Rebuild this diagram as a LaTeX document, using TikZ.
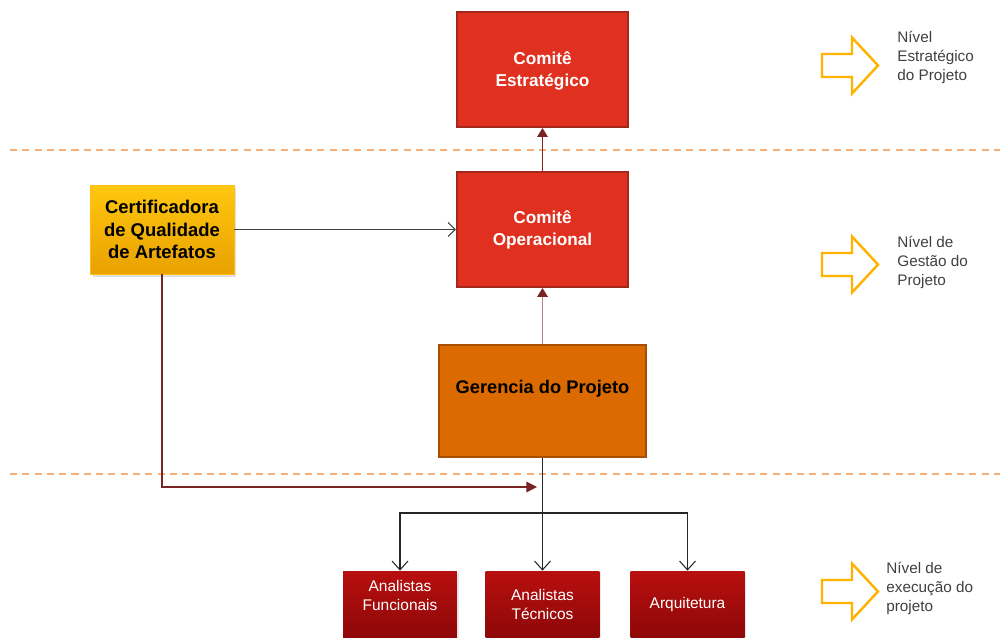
\documentclass[tikz,border=0pt]{standalone}
\usepackage{fontspec}
\setmainfont{Liberation Sans}
\usetikzlibrary{arrows.meta,shadows}

\definecolor{redfill}{HTML}{E0301F}
\definecolor{redline}{HTML}{A2281C}
\definecolor{orfill}{HTML}{DB6A00}
\definecolor{orline}{HTML}{A95000}
\definecolor{goldtop}{HTML}{FFC70F}
\definecolor{goldbot}{HTML}{E9A100}
\definecolor{darkredtop}{HTML}{B80F0F}
\definecolor{darkredbot}{HTML}{8E0808}
\definecolor{levelarrow}{HTML}{FFB300}
\definecolor{leveltext}{HTML}{404040}
\definecolor{sepline}{HTML}{F5B07A}
\definecolor{linkred}{HTML}{7A2424}
\definecolor{linkpink}{HTML}{B08484}

\tikzset{
  committee/.style={draw=redline, line width=1.2pt, fill=redfill, text=white,
    font=\bfseries\fontsize{9.8}{12.5}\selectfont, align=center,
    minimum width=3.42cm, minimum height=2.3cm, inner sep=0pt},
  certbox/.style={draw=goldtop!90!orange, line width=0.4pt, top color=goldtop, bottom color=goldbot,
    font=\bfseries\fontsize{10.5}{12.8}\selectfont, align=center,
    minimum width=2.88cm, minimum height=1.78cm, inner sep=0pt,
    drop shadow={shadow xshift=0.05cm, shadow yshift=-0.05cm, opacity=0.25}},
  managerbox/.style={draw=orline, line width=1.2pt, fill=orfill,
    font=\bfseries\fontsize{10.4}{12}\selectfont, align=center,
    minimum width=4.14cm, minimum height=2.24cm, inner sep=0pt},
  teambox/.style={top color=darkredtop, bottom color=darkredbot, text=white,
    font=\fontsize{8.8}{10.8}\selectfont, align=center,
    minimum width=2.28cm, minimum height=1.32cm, inner sep=0pt,
    drop shadow={shadow xshift=0.04cm, shadow yshift=-0.04cm, opacity=0.2}},
  teamtxt/.style={font=\fontsize{8.8}{10.8}\selectfont, text=white, align=center, inner sep=0pt},
  leveltxt/.style={anchor=north west, text=leveltext, align=left,
    font=\fontsize{8.7}{10.8}\selectfont, inner sep=0pt},
  levelarrowshape/.style={draw=levelarrow, line width=1.4pt, line join=miter},
  sep/.style={draw=sepline, dashed, dash pattern=on 4pt off 3pt, line width=0.6pt},
  uplink/.style={draw=linkred, line width=0.6pt, -{Triangle[length=5pt,width=6pt]}},
  pinklink/.style={draw=linkpink, line width=0.8pt, -{Triangle[length=5pt,width=6pt,color=linkred]}},
  certlink/.style={draw=black!75, line width=0.6pt, -{Straight Barb[length=4pt,width=8pt]}},
  feedlink/.style={draw=linkred, line width=0.7pt, -{Triangle[length=6pt,width=6pt]}},
  teamlink/.style={draw=black!85, line width=0.6pt, -{Straight Barb[length=5pt,width=9pt]}},
}

\newcommand{\levelarrow}[1]{%
  \draw[levelarrowshape] (822,#1-11.5) -- (852,#1-11.5) -- (852,#1-28) -- (878,#1)
    -- (852,#1+28) -- (852,#1+11.5) -- (822,#1+11.5) -- cycle;}

\begin{document}
\begin{tikzpicture}[x=0.02cm, y=-0.02cm]
\useasboundingbox (0,0) rectangle (1000,637);
\begin{scope}
\clip (0,0) rectangle (1000,637);

% level separators
\draw[sep] (10,150) -- (1000,150);
\draw[sep] (10,474) -- (1000,474);

% boxes
\node[committee] (est) at (542.5,69.5) {};
\node[committee] (op) at (542.5,229.5) {};
\node[committee, draw=none, fill=none, minimum width=0pt, minimum height=0pt] (esttxt) at (542.5,71) {Comitê\\Estratégico};
\node[committee, draw=none, fill=none, minimum width=0pt, minimum height=0pt] (optxt) at (542.5,230) {Comitê\\Operacional};
\node[certbox] (cert) at (162,229.5) {Certificadora\\de Qualidade\\de Artefatos};
\node[managerbox] (ger) at (542.5,401) {};
\node[font=\bfseries\fontsize{10.4}{12}\selectfont, inner sep=0pt] (gertxt) at (542.5,389) {Gerencia do Projeto};

\node[teambox] (func) at (400,604) {};
\node[teamtxt] (functxt) at (400,595) {Analistas\\Funcionais};
\node[teambox] (tec) at (542.5,604) {Analistas\\Técnicos};
\node[teambox] (arq) at (687.5,604) {Arquitetura};

% connectors
\draw[uplink] (op.north) -- (est.south);
\draw[pinklink] (ger.north) -- (op.south);
\draw[certlink] (cert.east) -- (op.west);
\coordinate (feedend) at (537,487);
\draw[feedlink] (cert.south) -- (162,487) -- (feedend);
\coordinate (fork) at (542.5,513);
\draw[draw=black!85, line width=0.6pt] (ger.south) -- (fork);
\draw[teamlink] (fork) -| (func.north);
\draw[teamlink] (fork) -- (tec.north);
\draw[teamlink] (fork) -| (arq.north);

% level markers
\levelarrow{65.5}
\levelarrow{264.5}
\levelarrow{591.5}
\node[leveltxt] (l1) at (897,31) {Nível\\Estratégico\\do Projeto};
\node[leveltxt] (l2) at (897,236) {Nível de\\Gestão do\\Projeto};
\node[leveltxt] (l3) at (886,562) {Nível de\\execução do\\projeto};
\end{scope}
\end{tikzpicture}
\end{document}
